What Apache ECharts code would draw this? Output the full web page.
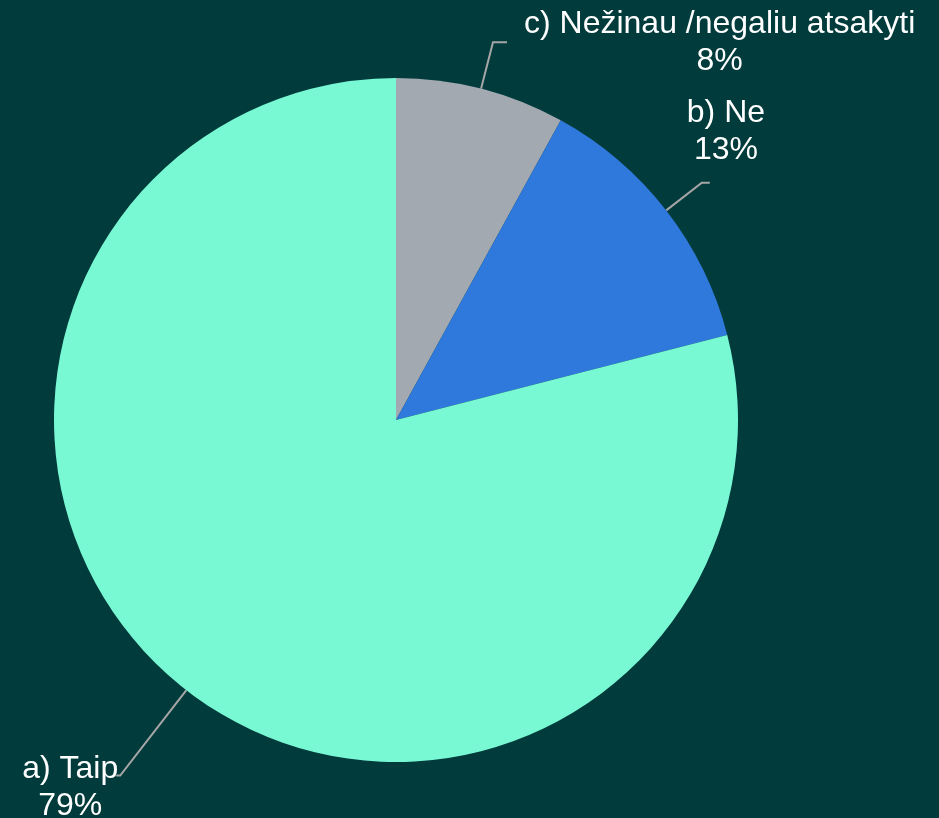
<!DOCTYPE html>
<html>
<head>
<meta charset="utf-8">
<script src="https://cdn.jsdelivr.net/npm/echarts@6/dist/echarts.min.js"></script>
<style>
  html, body { margin: 0; padding: 0; background: #013b3c; }
  #chart { width: 939px; height: 818px; }
</style>
</head>
<body>
<div id="chart"></div>
<script>
// atsakymai, pagal laikrodzio rodykle nuo virsaus
const categories = ['c) Nežinau /negaliu atsakyti', 'b) Ne', 'a) Taip']
const values = [8, 13, 79]
const colors = ['#a3a9b1', '#3079dc', '#79f8d4']

// etikeciu linijos ir poslinkiai
const lineLen = [48, 45, 108]
const lineLen2 = [14, 8, 4]
const labelShift = [[12, 0], [-28, -51], [7, 12]]

const chart = echarts.init(document.getElementById('chart'))
chart.setOption({
  backgroundColor: '#013b3c',
  animation: false,
  series: [{
    type: 'pie',
    center: [396, 420],
    radius: 342,
    startAngle: 90,
    clockwise: true,
    data: categories.map(function (name, i) {
      return {
        name: name,
        value: values[i],
        itemStyle: { color: colors[i] },
        labelLine: { length: lineLen[i], length2: lineLen2[i] }
      }
    }),
    label: {
      show: true,
      position: 'outside',
      formatter: '{t|{b}}\n{t|{c}%}',
      color: '#ffffff',
      fontFamily: 'Liberation Sans, Arial, sans-serif',
      fontSize: 32,
      lineHeight: 37,
      rich: {
        t: {
          color: '#ffffff',
          fontFamily: 'Liberation Sans, Arial, sans-serif',
          fontSize: 32,
          lineHeight: 37,
          align: 'center'
        }
      }
    },
    labelLine: {
      show: true,
      lineStyle: { color: '#a6a6a6', width: 2 }
    },
    labelLayout: function (params) {
      const s = labelShift[params.dataIndex]
      return { dx: s[0], dy: s[1] }
    }
  }]
})
</script>
</body>
</html>
